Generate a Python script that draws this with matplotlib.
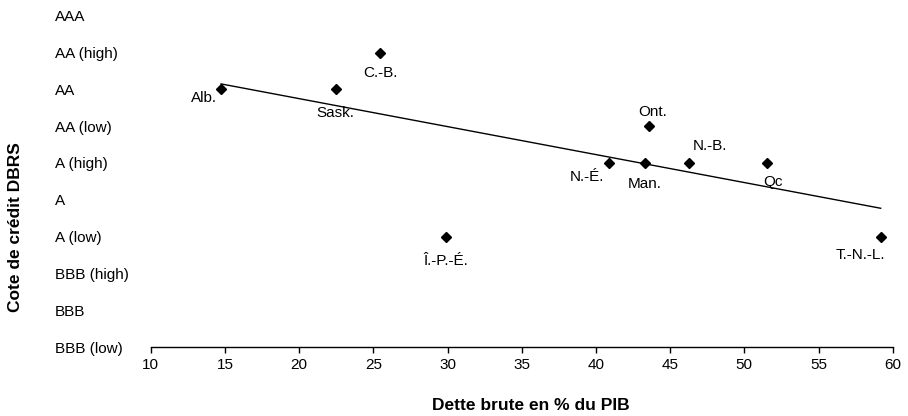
import numpy as np
import matplotlib
matplotlib.use("Agg")
import matplotlib.pyplot as plt

plt.rcParams['font.family'] = ['Liberation Sans', 'DejaVu Sans']

rating_labels = ["BBB (low)", "BBB", "BBB (high)", "A (low)", "A", "A (high)",
                 "AA (low)", "AA", "AA (high)", "AAA"]
provinces = ["Alb.", "Sask.", "C.-B.", "Î.-P.-É.", "N.-É.", "Man.", "Ont.",
             "N.-B.", "Qc", "T.-N.-L."]
debt_pct_gdp = [14.74, 22.47, 25.45, 29.88, 40.88, 43.29, 43.58, 46.3, 51.5, 59.19]
ratings = ["AA", "AA", "AA (high)", "A (low)", "A (high)", "A (high)", "AA (low)",
           "A (high)", "A (high)", "A (low)"]
x_ticks = [10, 15, 20, 25, 30, 35, 40, 45, 50, 55, 60]

# label offsets in points (style)
label_offsets = {
    "Alb.": (-12.5, -6.5), "Sask.": (0, -17), "C.-B.": (0.5, -15),
    "Î.-P.-É.": (0, -17.5), "N.-É.": (-16, -10), "Man.": (0, -15),
    "Ont.": (2.5, 10.5), "N.-B.": (14.5, 12), "Qc": (4.8, -13.5),
    "T.-N.-L.": (-14.5, -13.3),
}

FS = 11
W, H = 908, 416
fig = plt.figure(figsize=(W / 100, H / 100), dpi=100)
left, right, bottom, top = 150.7, 892.7, 347, 15.7
ax = fig.add_axes([left / W, 1 - bottom / H, (right - left) / W, (bottom - top) / H])

y_vals = np.array([rating_labels.index(r) for r in ratings], dtype=float)
x_vals = np.array(debt_pct_gdp)

ax.plot(x_vals, y_vals, linestyle='none', marker='D', markersize=5.6,
        color='black', zorder=3)

coef = np.polyfit(x_vals, y_vals, 1)
xs = np.array([x_vals.min(), x_vals.max()])
ax.plot(xs, np.polyval(coef, xs), color='black', linewidth=1.0, zorder=2)

for name, xv, yv in zip(provinces, x_vals, y_vals):
    dx, dy = label_offsets[name]
    ax.annotate(name, (xv, yv), xytext=(dx, dy), textcoords='offset points',
                ha='center', va='center', fontsize=FS, color='black')

ax.set_xlim(10, 60)
ax.set_ylim(0, 9)
ax.set_xticks(x_ticks)
ax.set_xticklabels([str(t) for t in x_ticks], fontsize=FS)
ax.set_yticks(range(len(rating_labels)))
ax.set_yticklabels(rating_labels, fontsize=FS)
for lab in ax.get_yticklabels():
    lab.set_horizontalalignment('left')
ax.tick_params(axis='y', length=0, pad=69)
ax.tick_params(axis='x', direction='out', length=4, width=1, pad=4)

for s in ['top', 'right', 'left']:
    ax.spines[s].set_visible(False)
ax.spines['bottom'].set_linewidth(1)
ax.patch.set_alpha(0)

fig.text(16 / W, 1 - 226.7 / H, "Cote de crédit DBRS", rotation=90,
         ha='center', va='center', fontsize=12.5, fontweight='bold')
fig.text(530.5 / W, 1 - 406 / H, "Dette brute en % du PIB",
         ha='center', va='center', fontsize=12.5, fontweight='bold')

fig.savefig("out.png", dpi=100)
